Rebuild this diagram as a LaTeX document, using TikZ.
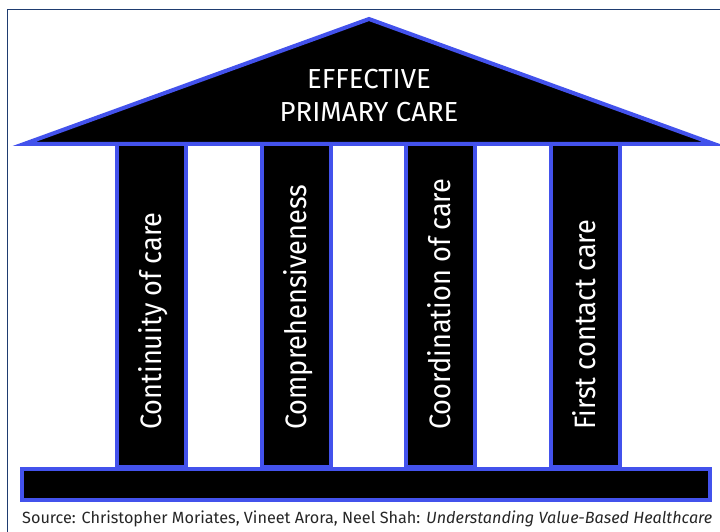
\documentclass[tikz,border=0pt]{standalone}
\usepackage{fontspec}
\setmainfont{Fira Sans}
\newfontfamily\pillarfont{Fira Sans}[FakeStretch=0.92]
\usepackage{xcolor}
\usepackage{tikz}
\usetikzlibrary{positioning}
\definecolor{edge}{HTML}{4352EC}
\definecolor{frame}{HTML}{1F3C70}

\begin{document}
\begin{tikzpicture}[x=1pt,y=-1pt,
  roof/.style={draw=edge,line width=4pt,fill=black,line join=miter},
  pillar/.style={draw=edge,line width=4pt,fill=black,minimum width=69pt,minimum height=323pt,inner sep=0pt},
  base/.style={draw=edge,line width=4pt,fill=black,minimum width=688pt,minimum height=31pt,inner sep=0pt},
  plabel/.style={rotate=90,anchor=base west,text=white,inner sep=0pt,font=\pillarfont\fontsize{29.5}{32}\selectfont},
  ]
  \useasboundingbox (0,0) rectangle (720,532);
  % ---- outer frame (runs off the right and bottom) ----
  \draw[frame,line width=1.6pt] (7.5,532) -- (7.5,9.5) -- (720,9.5);

  % ---- pillars ----
  \foreach \i/\txt in {1/Continuity of care,2/Comprehensiveness,3/Coordination of care,4/First contact care}{
    \node[pillar] (p\i) at ({151.5+144.5*(\i-1)},305.5) {};
    \node[plabel] (t\i) at ({161.5+144.5*(\i-1)},430) {\txt};
  }

  % ---- roof ----
  \draw[roof] (24,144) -- (369,19) -- (714,144) -- cycle;
  \node[text=white,align=center,font=\fontsize{27.5}{33}\selectfont] (title) at (369,96)
    {EFFECTIVE\\PRIMARY CARE};

  % ---- base ----
  \node[base] (base) at (366,484.5) {};

  % ---- source line ----
  \node[anchor=base west,inner sep=0pt,text=black!85] (src) at (22,523)
    {\resizebox{690pt}{!}{Source: Christopher Moriates, Vineet Arora, Neel Shah: \textit{Understanding Value-Based Healthcare}}};
\end{tikzpicture}
\end{document}
